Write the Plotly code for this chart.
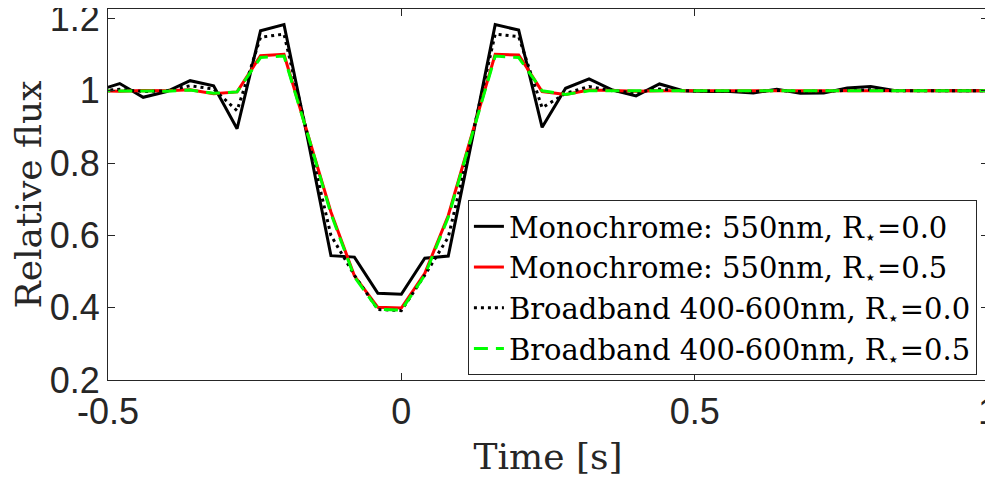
import plotly.graph_objects as go

# Zeitachse (s) und relative Flusswerte der vier Simulationen
time_s = [-0.52, -0.48, -0.44, -0.40, -0.36, -0.32, -0.28, -0.24, -0.20, -0.16,
          -0.12, -0.08, -0.04, 0.00, 0.04, 0.08, 0.12, 0.16, 0.20, 0.24,
          0.28, 0.32, 0.36, 0.40, 0.44, 0.48, 0.52, 0.56, 0.60, 0.64,
          0.68, 0.72, 0.76, 0.80, 0.84, 0.88, 0.92, 0.96, 1.00]

mono_r00 = [1.000, 1.020, 0.982, 0.998, 1.028, 1.014, 0.895, 1.166, 1.183, 0.870,
            0.544, 0.540, 0.440, 0.437, 0.537, 0.543, 0.860, 1.183, 1.168, 0.899,
            1.007, 1.033, 1.002, 0.986, 1.019, 1.000, 0.998, 0.998, 0.994, 1.004,
            0.993, 0.994, 1.008, 1.012, 1.001, 1.000, 1.000, 1.000, 1.000]

mono_r05 = [1.000, 0.999, 1.001, 1.000, 1.003, 0.992, 0.997, 1.097, 1.101, 0.885,
            0.665, 0.488, 0.401, 0.399, 0.495, 0.655, 0.880, 1.101, 1.099, 0.998,
            0.990, 1.002, 1.001, 0.999, 1.000, 1.000, 1.000, 1.000, 1.000, 1.000,
            1.000, 1.000, 1.000, 1.000, 1.000, 1.000, 1.000, 1.000, 1.000]

broad_r00 = [1.000, 1.004, 0.998, 1.000, 1.014, 1.005, 0.945, 1.148, 1.157, 0.880,
             0.600, 0.490, 0.395, 0.392, 0.490, 0.595, 0.870, 1.157, 1.150, 0.953,
             0.993, 1.012, 1.000, 0.995, 1.005, 1.000, 1.000, 0.999, 0.998, 1.001,
             0.998, 0.999, 1.002, 1.003, 1.000, 1.000, 1.000, 1.000, 1.000]

broad_r05 = [1.000, 1.000, 1.000, 0.999, 1.002, 0.993, 0.997, 1.092, 1.096, 0.882,
             0.660, 0.485, 0.396, 0.393, 0.490, 0.650, 0.875, 1.096, 1.092, 1.000,
             0.990, 1.000, 1.000, 1.000, 1.000, 1.000, 1.000, 1.000, 1.000, 1.000,
             1.000, 1.000, 1.000, 1.000, 1.000, 1.000, 1.000, 1.000, 1.000]

series_names = ['Monochrome: 550nm, R<sub>⋆</sub>=0.0',
                'Monochrome: 550nm, R<sub>⋆</sub>=0.5',
                'Broadband 400-600nm, R<sub>⋆</sub>=0.0',
                'Broadband 400-600nm, R<sub>⋆</sub>=0.5']

x_ticks = [-0.5, 0, 0.5, 1]
x_ticktext = ['-0.5', '0', '0.5', '1']
y_ticks = [0.2, 0.4, 0.6, 0.8, 1.0, 1.2]
y_ticktext = ['0.2', '0.4', '0.6', '0.8', '1', '1.2']

fig = go.Figure()

styles = [
    dict(color='black', width=3, dash='solid'),
    dict(color='#ff0000', width=3, dash='solid'),
    dict(color='black', width=3, dash='3px,4px'),
    dict(color='#00ff00', width=3, dash='14px,8px'),
]
for vals, name, st in zip([mono_r00, mono_r05, broad_r00, broad_r05], series_names, styles):
    fig.add_trace(go.Scatter(x=time_s, y=vals, mode='lines', name=name, line=st))

serif = 'DejaVu Serif'
axis_common = dict(
    showline=True, linecolor='#262626', linewidth=1, mirror='ticks',
    ticks='inside', ticklen=7, tickcolor='#262626', tickwidth=1,
    showgrid=False, zeroline=False, automargin=False,
    ticklabeloverflow='allow',
    tickfont=dict(family='Liberation Sans', size=36, color='#262626'),
)

# die Seite hat 8px Rand, daher etwas kleiner
fig.update_layout(
    width=985, height=477,
    margin=dict(l=100, r=5, t=1, b=105),
    paper_bgcolor='white', plot_bgcolor='white',
    showlegend=True,
    legend=dict(
        x=0.409, y=0.4852, xanchor='left', yanchor='top',
        bgcolor='white', bordercolor='#262626', borderwidth=1,
        font=dict(family=serif, size=29, color='black'),
        tracegroupgap=0,
    ),
    xaxis=dict(axis_common, range=[-0.5, 1], tickvals=x_ticks, ticktext=x_ticktext,
               title=dict(text='Time [s]', standoff=12,
                          font=dict(family=serif, size=36, color='#262626'))),
    yaxis=dict(axis_common, range=[0.2, 1.2263], tickvals=y_ticks, ticktext=y_ticktext,
               title=dict(text='Relative flux', standoff=10,
                          font=dict(family=serif, size=36, color='#262626'))),
)

fig.write_html('out.html')
